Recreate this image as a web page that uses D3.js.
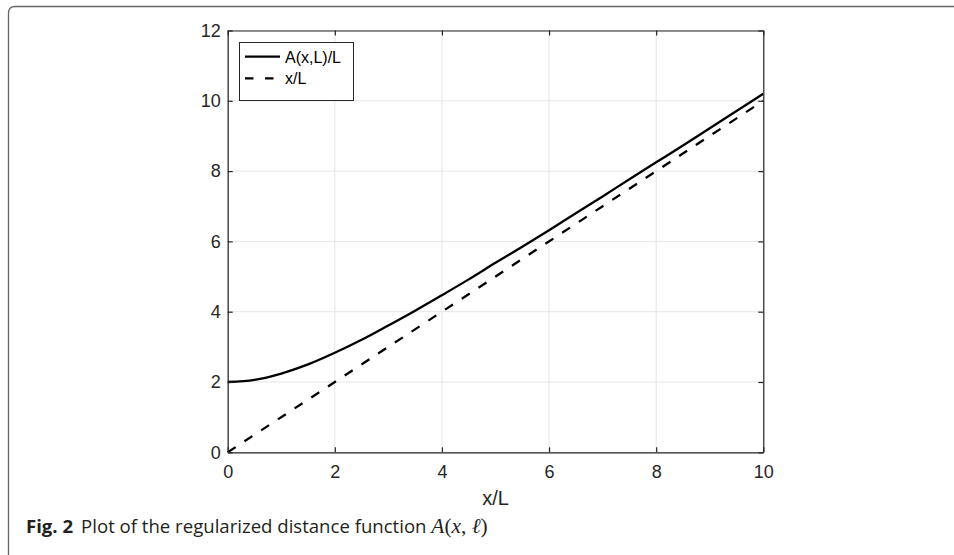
<!DOCTYPE html>
<html>
<head>
<meta charset="utf-8">
<script src="https://cdn.jsdelivr.net/npm/d3@7/dist/d3.min.js"></script>
<style>
  html, body { margin: 0; padding: 0; background: #fff; }
  svg { display: block; }
</style>
</head>
<body>
<svg id="chart" width="954" height="555"></svg>
<script>
// ---- data ----
const xTicks = [0, 2, 4, 6, 8, 10];
const yTicks = [0, 2, 4, 6, 8, 10, 12];
const xValues = [0, 0.5, 1, 1.5, 2, 2.5, 3, 3.5, 4, 4.5, 5, 5.5, 6, 6.5, 7, 7.5, 8, 8.5, 9, 9.5, 10];
const aValues = [2.00, 2.06, 2.24, 2.50, 2.83, 3.20, 3.61, 4.03, 4.47, 4.92, 5.39, 5.85, 6.32, 6.80, 7.28, 7.77, 8.25, 8.73, 9.22, 9.71, 10.20];
const lineX = [0, 10];
const lineY = [0, 10];
const seriesNames = ["A(x,L)/L", "x/L"];
const xLabel = "x/L";
const captionBold = "Fig. 2";
const captionText = "Plot of the regularized distance function ";

(function () {
// ---- layout ----
const svg = d3.select("#chart");
const pL = 227.7, pR = 763.3, pT = 30.5, pB = 452.3;
const x = d3.scaleLinear().domain([0, 10]).range([pL, pR]);
const y = d3.scaleLinear().domain([0, 12]).range([pB, pT]);
const tickFont = "'Liberation Sans', Arial, Helvetica, sans-serif";

// outer frame
svg.append("path")
  .attr("d", "M8.5,555 L8.5,13 Q8.5,6.5 15,6.5 L954,6.5")
  .attr("fill", "none").attr("stroke", "#666").attr("stroke-width", 1.3);

// grid
const g = svg.append("g");
g.selectAll(".gx").data(xTicks).join("line")
  .attr("x1", d => x(d)).attr("x2", d => x(d))
  .attr("y1", pT).attr("y2", pB)
  .attr("stroke", "#e5e5e5").attr("stroke-width", 1);
g.selectAll(".gy").data(yTicks).join("line")
  .attr("y1", d => y(d)).attr("y2", d => y(d))
  .attr("x1", pL).attr("x2", pR)
  .attr("stroke", "#e5e5e5").attr("stroke-width", 1);

// axes (inward ticks on all sides)
const tl = 5;
const axB = d3.axisBottom(x).tickValues(xTicks).tickSizeInner(-tl).tickSizeOuter(0).tickPadding(13).tickFormat(d3.format("d"));
const axT = d3.axisTop(x).tickValues(xTicks).tickSizeInner(-tl).tickSizeOuter(0).tickFormat("");
const axL = d3.axisLeft(y).tickValues(yTicks).tickSizeInner(-tl).tickSizeOuter(0).tickPadding(7).tickFormat(d3.format("d"));
const axR = d3.axisRight(y).tickValues(yTicks).tickSizeInner(-tl).tickSizeOuter(0).tickFormat("");
function styleAxis(sel) {
  sel.attr("font-size", null).attr("font-family", null);
  sel.select(".domain").attr("stroke", "#262626").attr("stroke-width", 1.2);
  sel.selectAll(".tick line").attr("stroke", "#262626").attr("stroke-width", 1.2);
  sel.selectAll(".tick text").attr("fill", "#262626").style("font-family", tickFont).style("font-size", "18px");
}

// lines
const curve = xValues.map((v, i) => [v, aValues[i]]);
const straight = lineX.map((v, i) => [v, lineY[i]]);
const lineGen = d3.line().x(d => x(d[0])).y(d => y(d[1])).curve(d3.curveCatmullRom);
svg.append("path").datum(straight).attr("d", d3.line().x(d => x(d[0])).y(d => y(d[1])))
  .attr("fill", "none").attr("stroke", "#000").attr("stroke-width", 2.3)
  .attr("stroke-dasharray", "9.5,10.5");
svg.append("path").datum(curve).attr("d", lineGen)
  .attr("fill", "none").attr("stroke", "#000").attr("stroke-width", 2.3);

svg.append("g").attr("transform", `translate(0,${pB})`).call(axB).call(styleAxis);
svg.append("g").attr("transform", `translate(0,${pT})`).call(axT).call(styleAxis);
svg.append("g").attr("transform", `translate(${pL},0)`).call(axL).call(styleAxis);
svg.append("g").attr("transform", `translate(${pR},0)`).call(axR).call(styleAxis);

// x label
svg.append("text").attr("x", (pL + pR) / 2).attr("y", 505)
  .attr("text-anchor", "middle").attr("fill", "#262626")
  .style("font-family", tickFont).style("font-size", "20px").text(xLabel);

// legend
const lg = svg.append("g");
lg.append("rect").attr("x", 239.5).attr("y", 42.5).attr("width", 114).attr("height", 58)
  .attr("fill", "#fff").attr("stroke", "#262626").attr("stroke-width", 1);
const rows = [56.7, 78.3];
seriesNames.forEach((name, i) => {
  lg.append("line").attr("x1", 245).attr("x2", 280).attr("y1", rows[i]).attr("y2", rows[i])
    .attr("stroke", "#000").attr("stroke-width", 2.3)
    .attr("stroke-dasharray", i === 1 ? "8.5,11.5" : null);
  lg.append("text").attr("x", 285).attr("y", rows[i] + 6).attr("fill", "#000")
    .style("font-family", tickFont).style("font-size", "16px").text(name);
});

// caption
const serif = "'Liberation Serif', 'DejaVu Serif', serif";
const cap = svg.append("text").attr("x", 26).attr("y", 533)
  .style("font-family", "'Open Sans', 'Noto Sans', sans-serif").style("font-size", "15px").attr("fill", "#231f20");
cap.append("tspan").style("font-weight", "bold").text(captionBold);
cap.append("tspan").attr("dx", 8).text(captionText);
cap.append("tspan").style("font-family", serif).style("font-style", "italic").style("font-size", "1.15em").text("A");
cap.append("tspan").style("font-family", serif).style("font-size", "1.15em").text("(");
cap.append("tspan").style("font-family", serif).style("font-style", "italic").style("font-size", "1.15em").text("x");
cap.append("tspan").style("font-family", serif).style("font-size", "1.15em").text(", ");
cap.append("tspan").style("font-family", serif).style("font-style", "italic").style("font-size", "1.15em").text("ℓ");
cap.append("tspan").style("font-family", serif).style("font-size", "1.15em").text(")");
const w = cap.node().getComputedTextLength();
const fs = 15 * 454 / w;
cap.style("font-size", fs.toFixed(2) + "px");
})();
</script>
</body>
</html>
